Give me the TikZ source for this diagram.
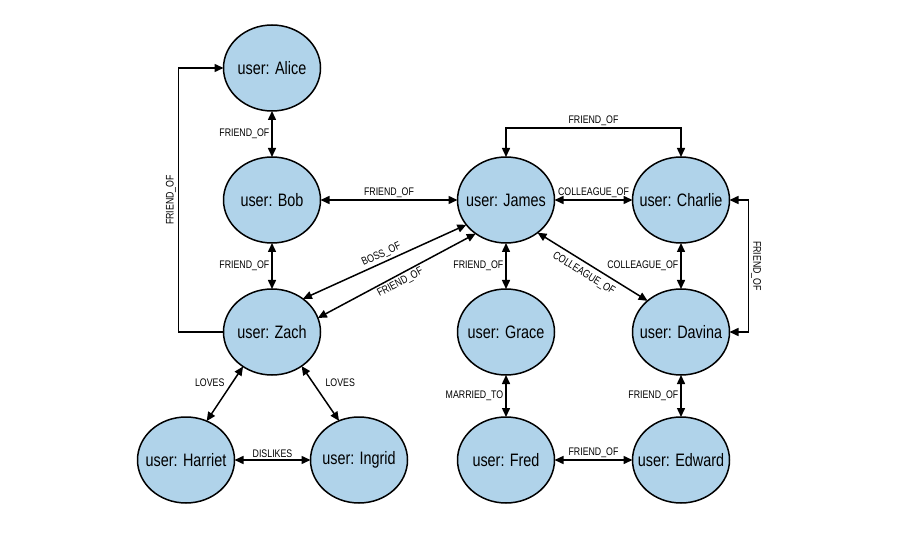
\documentclass[tikz,border=0pt]{standalone}
\usepackage{fontspec}
\setmainfont{Liberation Sans}[FakeStretch=0.8]
\usetikzlibrary{positioning}
\usetikzlibrary{arrows.meta}
\usetikzlibrary{shapes.geometric}
\definecolor{userblue}{RGB}{176,211,234}
\newcommand{\usr}[1]{\makebox[0pt]{user: #1}}

\begin{document}
\begin{tikzpicture}[
  user/.style={ellipse,draw,line width=1.5pt,fill=userblue,minimum width=97pt,
    minimum height=86pt,inner sep=0pt,outer sep=0pt,font=\fontsize{18}{20}\selectfont},
  rel/.style={line width=1.5pt,{Triangle[length=9pt,width=8pt]}-{Triangle[length=9pt,width=8pt]}},
  relto/.style={line width=1.5pt,-{Triangle[length=9pt,width=8pt]}},
  lbl/.style={font=\fontsize{11}{12}\selectfont,inner sep=2pt}
  ]
  \useasboundingbox (0,0) rectangle (909pt,-534pt);
  \node (alice)   [user] at (272pt,-68pt)            {\usr{Alice}};
  \node (bob)     [user,below=46pt of alice]         {\usr{Bob}};
  \node (zach)    [user,below=46pt of bob]           {\usr{Zach}};
  \node (harriet) [user,below=42pt of zach,xshift=-86pt] {\usr{Harriet}};
  \node (ingrid)  [user,right=76pt of harriet]       {\usr{Ingrid}};
  \node (james)   [user,right=137pt of bob]          {\usr{James}};
  \node (charlie) [user,right=78pt of james]         {\usr{Charlie}};
  \node (grace)   [user,below=46pt of james]         {\usr{Grace}};
  \node (davina)  [user,below=46pt of charlie]       {\usr{Davina}};
  \node (fred)    [user,below=42pt of grace]         {\usr{Fred}};
  \node (edward)  [user,below=42pt of davina]        {\usr{Edward}};

  \draw [rel] (alice) -- node[lbl,left] {FRIEND\_OF} (bob);
  \draw [rel] (bob) -- node[lbl,above] {FRIEND\_OF} (james);
  \draw [rel] (bob) -- node[lbl,left] {FRIEND\_OF} (zach);
  \draw [relto] (zach.west) -- ++(-45pt,0) |- node[lbl,pos=0.25,above,sloped] {FRIEND\_OF} (alice.west);
  \draw [rel] (zach.47) -- node[lbl,above,sloped] {BOSS\_OF} (james.212);
  \draw [rel] (zach.17) -- node[lbl,below,sloped] {FRIEND\_OF} (james.228);
  \draw [rel] (james) -- node[lbl,left] {FRIEND\_OF} (grace);
  \draw [rel] (james) -- node[lbl,above] {COLLEAGUE\_OF} (charlie);
  \draw [rel] (james.north) -- ++(0,29pt) -| node[lbl,pos=0.25,above] {FRIEND\_OF} (charlie.north);
  \draw [rel] (james.314) -- node[lbl,pos=0.47,below=3pt,sloped] {COLLEAGUE\_OF} (davina.137);
  \draw [rel] (charlie) -- node[lbl,left] {COLLEAGUE\_OF} (davina);
  \draw [rel] (charlie.east) -- ++(19pt,0) |- node[lbl,pos=0.25,above,sloped] {FRIEND\_OF} (davina.east);
  \draw [rel] (zach.230) -- node[lbl,pos=0.3,left=5pt] {LOVES} (harriet.62);
  \draw [rel] (zach.311) -- node[lbl,pos=0.3,right=10pt] {LOVES} (ingrid.117);
  \draw [rel] (harriet) -- node[lbl,above] {DISLIKES} (ingrid);
  \draw [rel] (grace) -- node[lbl,left] {MARRIED\_TO} (fred);
  \draw [rel] (davina) -- node[lbl,left] {FRIEND\_OF} (edward);
  \draw [rel] (fred) -- node[lbl,above] {FRIEND\_OF} (edward);
\end{tikzpicture}
\end{document}
